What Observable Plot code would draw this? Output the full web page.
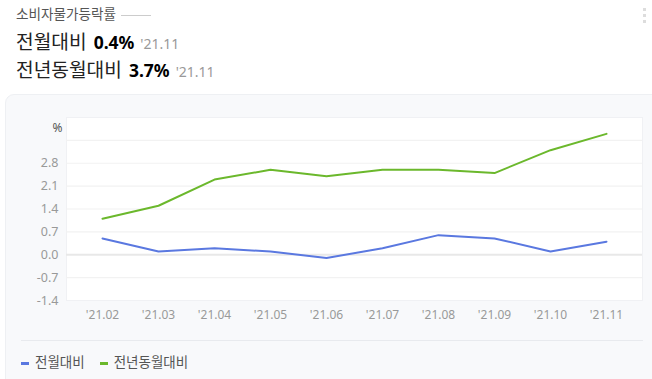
<!DOCTYPE html>
<html><head><meta charset="utf-8">
<script src="https://cdn.jsdelivr.net/npm/d3@7"></script>
<script src="https://cdn.jsdelivr.net/npm/@observablehq/plot@0.6"></script>
<style>
body{margin:0;width:652px;height:379px;overflow:hidden;background:#fff;font-family:"Noto Sans CJK KR","Noto Sans",sans-serif;position:relative}
.abs{position:absolute;white-space:nowrap}
#title{left:16px;top:3px;font-size:13.6px;color:#555;line-height:20px}
#title .ln{display:inline-block;width:30px;height:1.5px;background:#ccc;vertical-align:middle;margin-left:5px}
.row{left:16px;font-size:19.2px;color:#222;line-height:26px}
.row b{font-family:"Noto Sans",sans-serif;font-weight:700;font-size:17.5px;color:#000;margin-left:7px}
.row span{font-family:"Noto Sans",sans-serif;font-size:14px;color:#999;margin-left:6px}
#card{left:5px;top:94px;width:660px;height:300px;background:#f8f9fb;border:1px solid #eef0f3;border-radius:9px;box-sizing:border-box}
#sep{left:21px;top:340px;width:622px;height:1px;background:#e8eaee}
#legend{left:21px;top:351px;font-size:13.5px;color:#555;line-height:20px}
#legend i{display:inline-block;width:8px;height:3px;vertical-align:middle;margin-right:6px}
#chart{left:0;top:100px}
.dot{width:3px;height:3px;background:#ddd;left:643px}
</style></head><body>
<div class="abs" id="title">소비자물가등락률<span class="ln"></span></div>
<div class="abs dot" style="top:8px"></div><div class="abs dot" style="top:14px"></div><div class="abs dot" style="top:20px"></div>
<div class="abs row" style="top:28px">전월대비<b>0.4%</b><span>'21.11</span></div>
<div class="abs row" style="top:56px">전년동월대비<b>3.7%</b><span>'21.11</span></div>
<div class="abs" id="card"></div>
<div class="abs" id="chart"></div>
<div class="abs" id="sep"></div>
<div class="abs" id="legend"><i style="background:#5a78e0"></i>전월대비<i style="background:#6bb82c;margin-left:15px"></i>전년동월대비</div>
<script>
const months = ["'21.02","'21.03","'21.04","'21.05","'21.06","'21.07","'21.08","'21.09","'21.10","'21.11"];
const momValues = [0.5, 0.1, 0.2, 0.1, -0.1, 0.2, 0.6, 0.5, 0.1, 0.4];
const yoyValues = [1.1, 1.5, 2.3, 2.6, 2.4, 2.6, 2.6, 2.5, 3.2, 3.7];
const seriesNames = ["전월대비", "전년동월대비"];
const seriesColors = ["#5a78e0", "#6bb82c"];
const yTicks = [-1.4, -0.7, 0, 0.7, 1.4, 2.1, 2.8];
const gridLines = [-0.7, 0.7, 1.4, 2.1, 2.8, 3.5];

const data = [];
months.forEach((m, i) => {
  data.push({month: m, value: momValues[i], series: seriesNames[0]});
  data.push({month: m, value: yoyValues[i], series: seriesNames[1]});
});

const chart = Plot.plot({
  width: 652,
  height: 230,
  marginLeft: 66,
  marginRight: 10,
  marginTop: 17,
  marginBottom: 30,
  style: {background: "transparent", fontFamily: "'Noto Sans', sans-serif", fontSize: "12px", color: "#999"},
  x: {type: "point", domain: months, padding: 0.62, label: null},
  y: {domain: [-1.4, 4.2], label: null},
  color: {domain: seriesNames, range: seriesColors},
  marks: [
    Plot.frame({fill: "white", stroke: "#f0f1f4"}),
    Plot.ruleY(gridLines, {stroke: "#f2f2f2", strokeWidth: 1.2}),
    Plot.ruleY([0], {stroke: "#e8e8e8", strokeWidth: 2}),
    Plot.axisY(yTicks, {tickSize: 0, tickPadding: 8, tickFormat: d => d.toFixed(1), fill: "#999", fontSize: 12.5}),
    Plot.axisX({tickSize: 0, tickPadding: 10, fill: "#999", fontSize: 12}),
    Plot.text(["%"], {frameAnchor: "top-left", dx: -14, dy: 6, fill: "#555", fontSize: 12}),
    Plot.line(data, {x: "month", y: "value", z: "series", stroke: "series", strokeWidth: 2})
  ]
});
document.getElementById("chart").appendChild(chart);
</script>
</body></html>
